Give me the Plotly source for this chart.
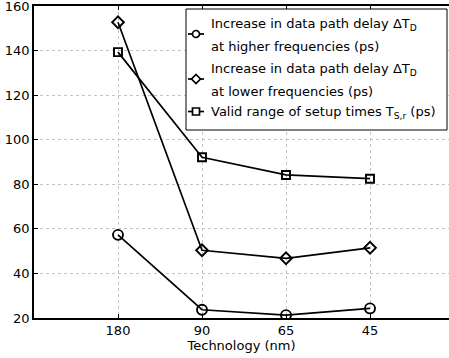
import plotly.graph_objects as go

# Technology nodes (nm) and measured delays (ps)
technology = ["180", "90", "65", "45"]
positions = [1, 2, 3, 4]
delay_high_freq = [57.3, 23.7, 21.3, 24.3]
delay_low_freq = [152.7, 50.4, 46.8, 51.5]
setup_range = [139.3, 92.1, 84.2, 82.5]
y_ticks = [20, 40, 60, 80, 100, 120, 140, 160]

series_names = [
    "Increase in data path delay ΔT<sub>D</sub><br>at higher frequencies (ps)",
    "Increase in data path delay ΔT<sub>D</sub><br>at lower frequencies (ps)",
    "Valid range of setup times T<sub>S,r</sub> (ps)",
]
series_values = [delay_high_freq, delay_low_freq, setup_range]
series_symbols = ["circle-open", "diamond-open", "square-open"]
symbol_sizes = [10, 9, 8]

# Figure geometry (pixels)
FIG_W, FIG_H = 449, 358
M_L, M_R, M_T, M_B = 34, 0, 6, 40
PLOT_W = FIG_W - M_L - M_R
PLOT_H = FIG_H - M_T - M_B


def px(x):
    return (x - M_L) / PLOT_W


def py(y):
    return (M_T + PLOT_H - y) / PLOT_H


font = "DejaVu Sans, Verdana, sans-serif"

fig = go.Figure()
for name, vals, sym, size in zip(series_names, series_values, series_symbols, symbol_sizes):
    fig.add_trace(go.Scatter(
        x=positions, y=vals, name=name, mode="lines+markers", showlegend=False,
        line=dict(color="black", width=1.7),
        marker=dict(symbol=sym, size=size, color="black",
                    line=dict(color="black", width=1.9)),
    ))

# Boxed legend in the top-right corner
shapes = [dict(type="rect", xref="paper", yref="paper",
               x0=px(186), x1=px(447), y0=py(130), y1=py(9),
               line=dict(color="black", width=1), fillcolor="white", layer="above")]

# Legend text rows: (text, vertical centre in px, contains a subscript)
legend_text = [
    ("Increase in data path delay ΔT<sub>D</sub>", 21.5, True),
    ("at higher frequencies (ps)", 46.5, False),
    ("Increase in data path delay ΔT<sub>D</sub>", 67.5, True),
    ("at lower frequencies (ps)", 91.5, False),
    ("Valid range of setup times T<sub>S,r</sub> (ps)", 110, True),
]
annotations = []
for txt, yc, sub in legend_text:
    annotations.append(dict(
        text=txt, xref="paper", yref="paper", x=px(209), y=py(yc),
        xanchor="left", yanchor="middle", showarrow=False,
        yshift=-2.5 if sub else 0,
        font=dict(family=font, size=13, color="black"), align="left",
    ))

sample_rows = [34, 79, 111.5]
cx = 196
for sym, yc in zip(series_symbols, sample_rows):
    shapes.append(dict(type="line", xref="paper", yref="paper",
                       x0=px(188), x1=px(204), y0=py(yc), y1=py(yc),
                       line=dict(color="black", width=1.7), layer="above"))
    if sym == "circle-open":
        r = 3.5
        shapes.append(dict(type="circle", xref="paper", yref="paper",
                           x0=px(cx - r), x1=px(cx + r), y0=py(yc + r), y1=py(yc - r),
                           line=dict(color="black", width=1.7), fillcolor="white", layer="above"))
    elif sym == "diamond-open":
        r = 4.5
        path = (f"M {px(cx)} {py(yc - r)} L {px(cx + r)} {py(yc)} "
                f"L {px(cx)} {py(yc + r)} L {px(cx - r)} {py(yc)} Z")
        shapes.append(dict(type="path", xref="paper", yref="paper", path=path,
                           line=dict(color="black", width=1.7), fillcolor="white", layer="above"))
    else:
        r = 3.5
        shapes.append(dict(type="rect", xref="paper", yref="paper",
                           x0=px(cx - r), x1=px(cx + r), y0=py(yc + r), y1=py(yc - r),
                           line=dict(color="black", width=1.7), fillcolor="white", layer="above"))

fig.update_layout(
    width=FIG_W, height=FIG_H,
    margin=dict(l=M_L, r=M_R, t=M_T, b=M_B),
    paper_bgcolor="white", plot_bgcolor="white",
    font=dict(family=font, size=13, color="black"),
    showlegend=False,
    shapes=shapes, annotations=annotations,
    xaxis=dict(
        range=[0, PLOT_W / 84], tickmode="array", tickvals=positions, ticktext=technology,
        showline=True, linecolor="black", linewidth=1.5, mirror="ticks",
        ticks="inside", ticklen=4, tickcolor="black",
        showgrid=True, gridcolor="#c4c4c4", griddash="dot", gridwidth=1,
        zeroline=False,
        title=dict(text="Technology (nm)", standoff=0, font=dict(size=13)),
        tickfont=dict(size=13),
    ),
    yaxis=dict(
        range=[20, 160], tickmode="array", tickvals=y_ticks,
        showline=True, linecolor="black", linewidth=1.5, mirror=False,
        ticks="inside", ticklen=4, tickcolor="black",
        showgrid=True, gridcolor="#c4c4c4", griddash="dot", gridwidth=1,
        zeroline=False, tickfont=dict(size=13), ticklabeloverflow="allow",
    ),
)

fig.write_html("out.html")
